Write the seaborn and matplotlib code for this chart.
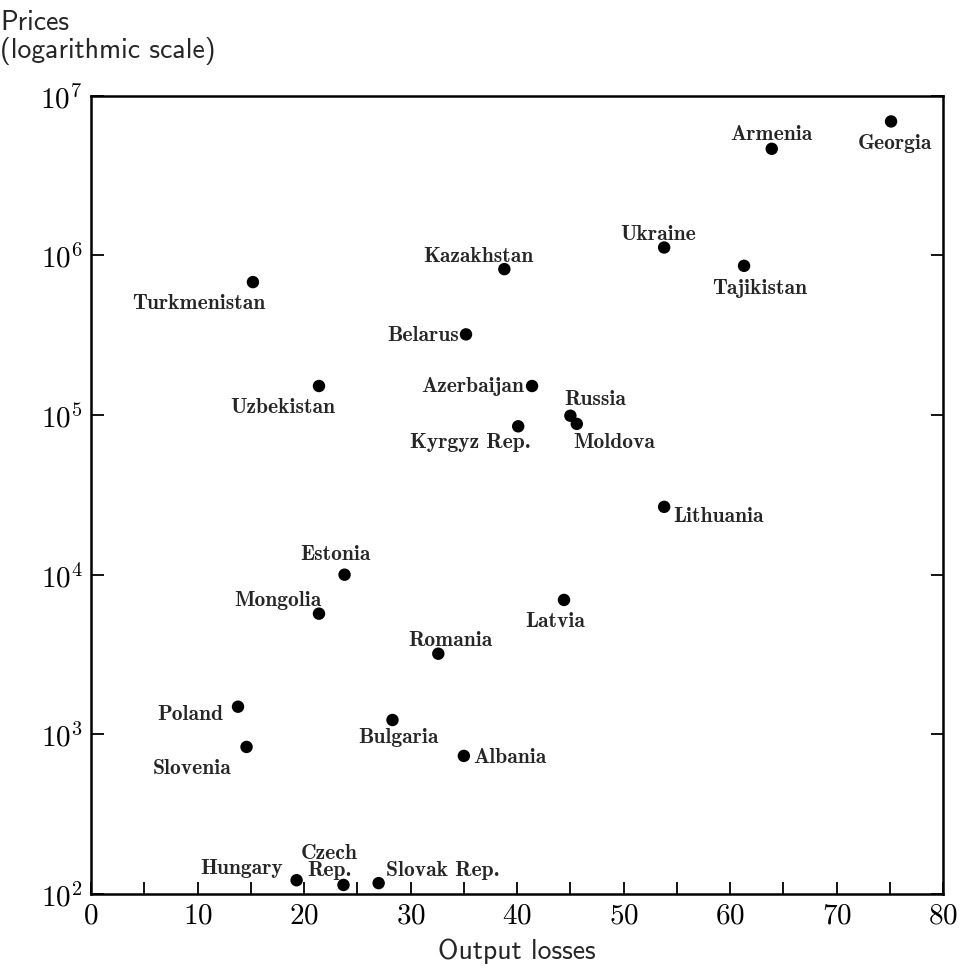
import numpy as np
import pandas as pd
import matplotlib
matplotlib.use("Agg")
import matplotlib.pyplot as plt
import matplotlib.ticker as mticker
import seaborn as sns

countries = ["Georgia", "Armenia", "Ukraine", "Tajikistan", "Kazakhstan",
             "Turkmenistan", "Belarus", "Uzbekistan", "Azerbaijan", "Russia",
             "Moldova", "Kyrgyz Rep.", "Lithuania", "Estonia", "Latvia",
             "Mongolia", "Romania", "Poland", "Bulgaria", "Slovenia",
             "Albania", "Hungary", "Czech\nRep.", "Slovak Rep."]
output_losses = [75.1, 63.9, 53.8, 61.3, 38.8,
                 15.2, 35.2, 21.4, 41.4, 45.0,
                 45.6, 40.1, 53.8, 23.8, 44.4,
                 21.4, 32.6, 13.8, 28.3, 14.6,
                 35.0, 19.3, 23.7, 27.0]
prices = [6.9e6, 4.65e6, 1.12e6, 8.6e5, 8.2e5,
          6.8e5, 3.2e5, 1.52e5, 1.52e5, 9.9e4,
          8.8e4, 8.5e4, 2.66e4, 1.0e4, 6.95e3,
          5.7e3, 3.2e3, 1.49e3, 1.23e3, 834,
          733, 122, 114, 117]

# label offsets in pixels (dx, dy, horizontal alignment)
label_pos = {
    "Georgia": (4, -21, "center"), "Armenia": (0, 15, "center"),
    "Ukraine": (-6, 14, "center"), "Tajikistan": (16, -22, "center"),
    "Kazakhstan": (-26, 14, "center"), "Turkmenistan": (-54, -20, "center"),
    "Belarus": (-7, 0, "right"), "Uzbekistan": (-36, -21, "center"),
    "Azerbaijan": (-8, 0, "right"), "Russia": (25, 17, "center"),
    "Moldova": (-4, -18, "left"), "Kyrgyz Rep.": (-48, -15, "center"),
    "Lithuania": (9, -9, "left"), "Estonia": (-9, 21, "center"),
    "Latvia": (-9, -21, "center"), "Mongolia": (-41, 14, "center"),
    "Romania": (12, 14, "center"), "Poland": (-15, -7, "right"),
    "Bulgaria": (6, -16, "center"), "Slovenia": (-54, -21, "center"),
    "Albania": (9, -1, "left"), "Hungary": (-14, 13, "right"),
    "Czech\nRep.": (-14, 24, "center"), "Slovak Rep.": (7, 14, "left"),
}

df = pd.DataFrame({"country": countries, "losses": output_losses, "prices": prices})

sns.set_style("ticks")
plt.rcParams["mathtext.fontset"] = "cm"

fig = plt.figure(figsize=(9.63, 9.70), dpi=100)
ax = fig.add_axes([0.0945, 0.0773, 0.885, 0.823])

sns.scatterplot(data=df, x="losses", y="prices", color="black", s=80,
                edgecolor="none", ax=ax, zorder=3)
ax.set_yscale("log")
ax.set_xlim(0, 80)
ax.set_ylim(1e2, 1e7)

for name, x, y in zip(countries, output_losses, prices):
    dx, dy, ha = label_pos[name]
    ax.annotate(name, (x, y), xytext=(dx, dy), textcoords="offset pixels",
                ha=ha, va="center", fontsize=15.5, family="cmb10",
                linespacing=0.85)

ax.xaxis.set_major_locator(mticker.MultipleLocator(10))
ax.xaxis.set_minor_locator(mticker.MultipleLocator(5))
ax.yaxis.set_major_locator(mticker.LogLocator(base=10, numticks=10))
ax.yaxis.set_minor_locator(mticker.NullLocator())
ax.yaxis.set_major_formatter(mticker.FuncFormatter(
    lambda v, p: r"$10^{%d}$" % int(round(np.log10(v)))))
ax.xaxis.set_major_formatter(mticker.FuncFormatter(lambda v, p: r"$%d$" % v))

ax.tick_params(axis="both", which="both", direction="in", length=9, width=1.3,
               labelsize=21, colors="black")
ax.tick_params(axis="y", which="both", left=True, right=True)
ax.tick_params(axis="x", which="both", top=False, pad=5)
ax.tick_params(axis="y", pad=6)
for sp in ax.spines.values():
    sp.set_visible(True)
    sp.set_linewidth(1.8)
    sp.set_color("black")

ax.set_xlabel("Output losses", family="cmss10", fontsize=20, labelpad=6)
ax.set_ylabel("")
fig.text(0.0, 0.977, "Prices", family="cmss10", fontsize=20, va="center")
fig.text(0.0, 0.947, "(logarithmic scale)", family="cmss10", fontsize=20, va="center")

fig.savefig("out.png", dpi=100, facecolor="white")
